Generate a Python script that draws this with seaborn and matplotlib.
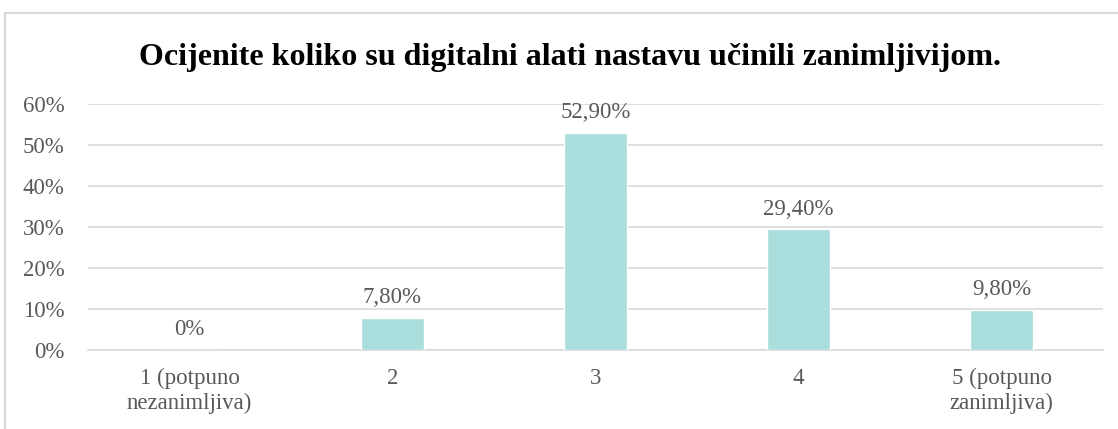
import matplotlib
matplotlib.use("Agg")
import matplotlib.pyplot as plt
import seaborn as sns
import pandas as pd
from matplotlib.patches import Rectangle
from matplotlib.ticker import PercentFormatter

# podaci s grafikona
categories = ["1 (potpuno\nnezanimljiva)", "2", "3", "4", "5 (potpuno\nzanimljiva)"]
values = [0.0, 7.8, 52.9, 29.4, 9.8]
value_labels = ["0%", "7,80%", "52,90%", "29,40%", "9,80%"]
title = "Ocijenite koliko su digitalni alati nastavu učinili zanimljivijom."

sns.set_theme(style="white")
plt.rcParams["font.family"] = ["Liberation Serif", "DejaVu Serif"]

df = pd.DataFrame({"kategorija": categories, "postotak": values})

fig = plt.figure(figsize=(11.18, 4.29), dpi=100)
ax = fig.add_axes([0.0787, 0.1841, 0.9079, 0.5735])

# okvir grafikona (desni i donji rub izvan slike)
fig.patches.append(Rectangle((0.0045, -0.1), 1.2, 1.0697, transform=fig.transFigure,
                             fill=False, edgecolor="#D9D9D9", linewidth=1.5))

sns.barplot(data=df, x="kategorija", y="postotak", color="#AADEDC", width=0.31,
            saturation=1, ax=ax, zorder=3)

ax.set_ylim(0, 60)
ax.set_xlim(-0.5, len(categories) - 0.5)
ax.set_yticks(range(0, 61, 10))
ax.yaxis.set_major_formatter(PercentFormatter(decimals=0))
ax.grid(axis="y", color="#D9D9D9", linewidth=1.2, zorder=0)
for s in ["top", "right", "left"]:
    ax.spines[s].set_visible(False)
ax.spines["bottom"].set_color("#D9D9D9")
ax.spines["bottom"].set_linewidth(1.2)
ax.set_xlabel("")
ax.set_ylabel("")
ax.tick_params(axis="both", length=0, labelsize=16.5, labelcolor="#595959")
ax.tick_params(axis="x", pad=13)
ax.tick_params(axis="y", pad=17)
for lbl in ax.get_xticklabels():
    lbl.set_linespacing(1.25)

# oznake vrijednosti iznad stupaca
for i, (v, txt) in enumerate(zip(values, value_labels)):
    ax.annotate(txt, (i, v), xytext=(0, 7), textcoords="offset points",
                ha="center", va="bottom", fontsize=16.5, color="#595959", annotation_clip=False)

fig.text(0.51, 0.866, title, ha="center", va="center", fontsize=23, fontweight="bold", color="black")

fig.savefig("out.png", dpi=100)
